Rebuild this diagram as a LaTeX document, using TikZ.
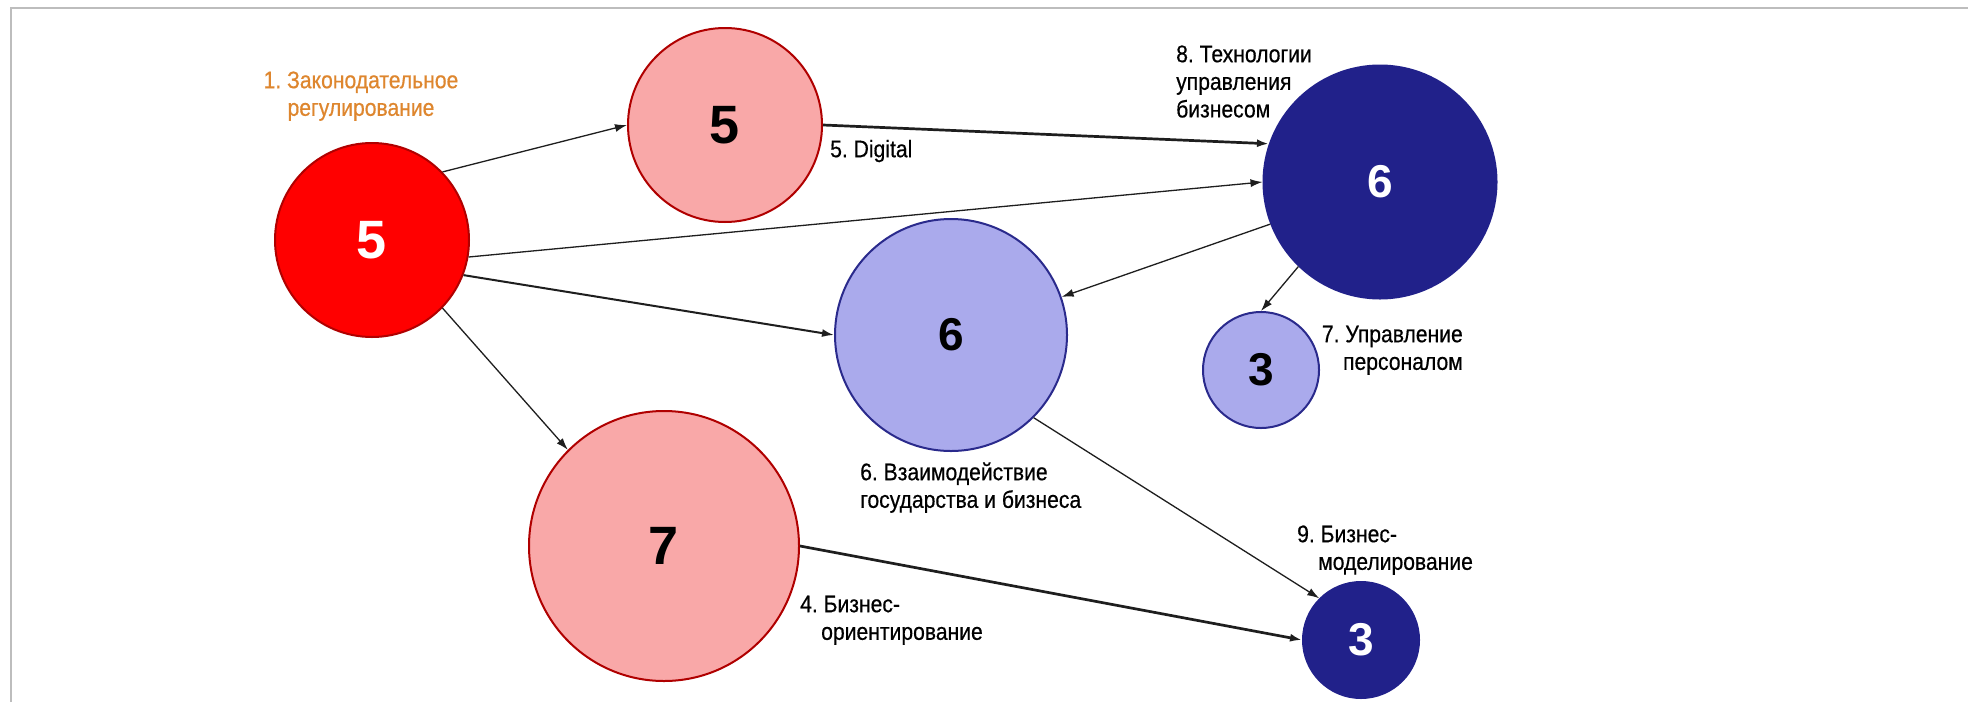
\documentclass[tikz,border=0pt]{standalone}
\usepackage{fontspec}
\setmainfont{Liberation Sans}
\newfontfamily\narrowfont{Liberation Sans}[FakeStretch=0.88,FakeBold=0.5]
\usetikzlibrary{arrows.meta}
\definecolor{redfill}{HTML}{FF0000}
\definecolor{redline}{HTML}{B00000}
\definecolor{pinkfill}{HTML}{F9A8A8}
\definecolor{lbluefill}{HTML}{AAAAEC}
\definecolor{blueline}{HTML}{2A2A8C}
\definecolor{dbluefill}{HTML}{21218A}
\definecolor{orangetxt}{HTML}{DE862E}
\definecolor{framegray}{HTML}{BDBDBD}
\definecolor{edgecol}{HTML}{1E1E1E}
\newcommand{\labstrut}{\rule{0pt}{19pt}}
\begin{document}
\begin{tikzpicture}[x=1pt,y=-1pt,
  bubble/.style={circle, inner sep=0pt, line width=2pt},
  bigdigit/.style={font=\fontsize{54}{54}\selectfont\bfseries},
  smalldigit/.style={font=\fontsize{46}{46}\selectfont\bfseries},
  redbub/.style={bubble, fill=redfill, draw=redline, text=white, bigdigit},
  pinkbub/.style={bubble, fill=pinkfill, draw=redline, text=black, bigdigit},
  lbluebub/.style={bubble, fill=lbluefill, draw=blueline, text=black, smalldigit},
  dbluebub/.style={bubble, fill=dbluefill, draw=dbluefill, text=white, smalldigit},
  lbl/.style={inner sep=0pt, font=\narrowfont\fontsize{24}{27.6}\selectfont\frenchspacing, text=black},
  link/.style={draw=edgecol, line width=1.3pt, -{Latex[length=12pt,width=8pt]}},
  heavylink/.style={link, line width=2.7pt},
  midlink/.style={link, line width=2pt},
  frameline/.style={draw=framegray, line width=2pt}
]
\useasboundingbox (0,0) rectangle (1968,702);
\fill[white] (0,0) rectangle (1968,702);
% frame
\coordinate (fc) at (10.8,7.5);
\coordinate (fr) at (1968,7.5);
\coordinate (fb) at (10.8,702);
\draw[frameline] (fb) -- (fc) -- (fr);

% bubbles
\node[redbub, minimum size=194pt] (n1) at (372,240) {5};
\node[pinkbub, minimum size=194pt] (n5) at (725,125) {5};
\node[pinkbub, minimum size=270pt] (n4) at (664,546) {7};
\node[lbluebub, minimum size=232pt] (n6) at (951,335) {6};
\node[lbluebub, minimum size=116pt] (n7) at (1261,370) {3};
\node[dbluebub, minimum size=233pt] (n8) at (1380,182) {6};
\node[dbluebub, minimum size=116pt] (n9) at (1361,640) {3};

% labels
\node[lbl, align=center, anchor=north, text=orangetxt] (l1) at (361,69)
  {\labstrut 1. Законодательное\\регулирование};
\node[lbl, anchor=north west] (l5) at (830,138) {\labstrut 5. Digital};
\node[lbl, align=left, anchor=north west] (l8) at (1176,43)
  {\labstrut 8. Технологии\\управления\\бизнесом};
\node[lbl, align=right, anchor=north east] (l7) at (1463,323)
  {\labstrut 7. Управление\\персоналом};
\node[lbl, align=left, anchor=north west] (l6) at (860,461)
  {\labstrut 6. Взаимодействие\\государства и бизнеса};
\node[lbl, align=left, anchor=north west] (l9) at (1297,523)
  {\labstrut 9. Бизнес-\\\hspace*{21pt}моделирование};
\node[lbl, align=left, anchor=north west] (l4) at (800,593)
  {\labstrut 4. Бизнес-\\\hspace*{21pt}ориентирование};

% connectors
\draw[link] (n1.44) -- (n5.west);
\draw[link] (n1.-10.5) -- (n8.west);
\draw[midlink] (n1.-21) -- (n6.west);
\draw[link] (n1.-44) -- (n4.135);
\draw[heavylink] (n5.east) -- (n8.161);
\draw[link] (n8.201) -- (n6.19);
\draw[link] (n8.226) -- (n7.north);
\draw[link] (n6.-45) -- (n9.135);
\draw[heavylink] (n4.east) -- (n9.west);
\end{tikzpicture}
\end{document}
